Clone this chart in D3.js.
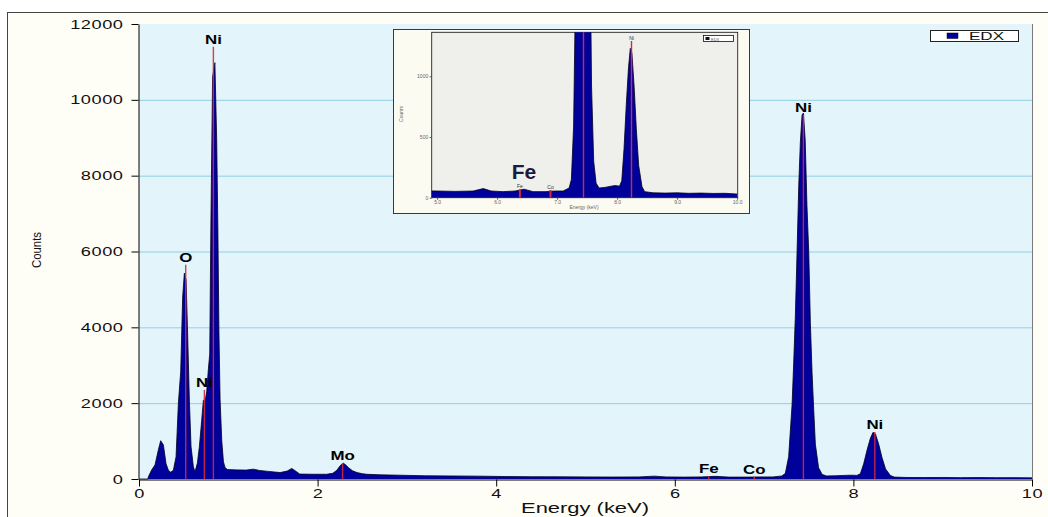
<!DOCTYPE html>
<html><head><meta charset="utf-8">
<script src="https://cdn.jsdelivr.net/npm/d3@7"></script>
<style>body{margin:0;background:#fff;} svg{display:block}</style>
</head><body><svg id="c" width="1048" height="517"></svg>
<script>
// ---- data ----
const energies = [0.0,0.10,0.105,0.142,0.179,0.217,0.243,0.273,0.303,0.329,0.355,0.385,0.415,0.441,0.467,0.489,0.508,0.527,0.545,0.564,0.583,0.609,0.627,0.654,0.676,0.702,0.721,0.740,0.758,0.777,0.792,0.805,0.824,0.850,0.870,0.883,0.895,0.908,0.927,0.946,0.964,0.99,1.10,1.20,1.28,1.35,1.45,1.58,1.66,1.71,1.76,1.80,1.95,2.10,2.17,2.215,2.25,2.27,2.29,2.32,2.345,2.39,2.44,2.50,2.55,2.70,2.92,3.2,3.5,3.8,4.1,4.4,4.7,5.0,5.3,5.6,5.77,5.9,6.1,6.3,6.45,6.6,6.8,6.95,7.1,7.2,7.238,7.275,7.313,7.331,7.35,7.369,7.388,7.406,7.425,7.44,7.46,7.48,7.50,7.518,7.537,7.556,7.574,7.61,7.65,7.70,7.80,7.90,7.97,8.04,8.078,8.115,8.153,8.19,8.22,8.247,8.283,8.32,8.36,8.415,8.46,8.6,8.8,9.0,9.2,9.4,9.6,9.8,10.0];
const counts = [0,0,60,240,370,770,1010,900,400,230,180,230,590,2000,2830,4800,5430,5250,3800,2080,850,320,190,420,850,1550,2080,2050,2300,2900,3300,6700,10600,10980,8940,6650,3900,2100,1000,450,300,250,240,235,260,225,200,170,210,280,200,130,125,125,150,230,340,390,415,360,300,220,170,140,125,110,100,85,80,75,65,60,58,55,52,55,75,55,50,55,70,50,50,55,55,80,150,590,1950,3040,4300,5980,7740,8880,9600,9650,8950,7210,5980,4130,2810,1800,920,300,120,80,85,95,100,95,140,400,765,1073,1230,1190,920,570,264,90,50,40,38,40,36,38,35,36,30];

const yTicks = [0,2000,4000,6000,8000,10000,12000];
const xTicks = [0,2,4,6,8,10];
const gridValues = [2000,4000,6000,8000,10000];

const lineElements = ["O","Ni","Ni","Mo","Fe","Co","Ni","Ni"];
const lineEnergies = [0.523,0.732,0.833,2.28,6.38,6.89,7.44,8.24];
const lineTops = [5650,2350,11400,420,70,60,9600,1240];

const insetXTicks = [5,6,7,8,9,10];
const insetYTicks = [0,500,1000];
const insetLineElements = ["Fe","Co","","Ni"];
const insetLineEnergies = [6.38,6.89,7.44,8.24];
const insetLineTops = [70,63,1500,1290];

const seriesName = "EDX";

// ---- drawing ----
const svg = d3.select("#c");
const FONT = "'Liberation Sans', Arial, sans-serif";

// outer frame
svg.append("rect").attr("x",7.5).attr("y",12.5).attr("width",1100).attr("height",600)
  .attr("fill","#fffef6").attr("stroke","#444").attr("stroke-width",1);

const x = d3.scaleLinear().domain([0,10]).range([139,1032]);
const y = d3.scaleLinear().domain([0,12000]).range([479,24]);

// plot background
svg.append("rect").attr("x",x(0)).attr("y",y(12000)).attr("width",x(10)-x(0)).attr("height",y(0)-y(12000))
  .attr("fill","#e4f4fb");

// gridlines
svg.append("g").selectAll("line").data(gridValues).join("line")
  .attr("x1",x(0)).attr("x2",x(10)).attr("y1",d=>y(d)+0.5).attr("y2",d=>y(d)+0.5)
  .attr("stroke","#8fd0e2").attr("stroke-width",1);

// right border
svg.append("line").attr("x1",x(10)+0.5).attr("x2",x(10)+0.5).attr("y1",y(12000)).attr("y2",y(0))
  .attr("stroke","#7a7a7a");

// spectrum
const area = d3.area().x((d,i)=>x(energies[i])).y0(y(0)).y1((d,i)=>y(counts[i])).curve(d3.curveLinear);
const outline = d3.line().x((d,i)=>x(energies[i])).y((d,i)=>y(counts[i])).curve(d3.curveLinear);
svg.append("path").datum(counts).attr("d",area).attr("fill","#00009a");
svg.append("path").datum(counts).attr("d",outline).attr("fill","none").attr("stroke","#000022").attr("stroke-width",0.8);

// element lines
const lg = svg.append("g");
lineElements.forEach((el,i)=>{
  const lx = x(lineEnergies[i]);
  lg.append("line").attr("x1",lx).attr("x2",lx).attr("y1",y(0)).attr("y2",y(lineTops[i]))
    .attr("stroke","#d8283c").attr("stroke-width",1.4).attr("opacity",0.9);
  lg.append("text").attr("transform",`translate(${lx},${y(lineTops[i])-3}) scale(1.3,1)`)
    .attr("text-anchor","middle").attr("font-family",FONT).attr("font-weight","bold")
    .attr("font-size",13).attr("fill","#000").text(el);
});

// axes
const ax = svg.append("g").attr("transform",`translate(${x(0)-0.5},0)`)
  .call(d3.axisLeft(y).tickValues(yTicks).tickSize(7).tickSizeOuter(0).tickPadding(8).tickFormat(d3.format("d")));
ax.selectAll("text").attr("font-family",FONT).attr("font-size",13).attr("fill","#111")
  .attr("transform","scale(1.4,1)").attr("x",-15/1.4).attr("letter-spacing",0.4);
ax.select(".domain").attr("stroke","#000");

const bx = svg.append("g").attr("transform",`translate(0,${y(0)+0.5})`)
  .call(d3.axisBottom(x).tickValues(xTicks).tickSize(7).tickSizeOuter(0).tickPadding(2).tickFormat(d3.format("d")));
bx.selectAll("text").attr("font-family",FONT).attr("font-size",13).attr("fill","#111")
  .attr("transform","scale(1.4,1)").attr("x",0).attr("letter-spacing",0.4);
bx.select(".domain").attr("stroke","#000");

// axis titles
svg.append("text").attr("x",585).attr("y",513).attr("text-anchor","middle")
  .attr("font-family",FONT).attr("font-size",14).attr("fill","#111")
  .attr("textLength",128).attr("lengthAdjust","spacingAndGlyphs").text("Energy (keV)");
svg.append("text").attr("transform","translate(41,250) rotate(-90)").attr("text-anchor","middle")
  .attr("font-family","'Liberation Sans Narrow', 'Arial Narrow', "+FONT).attr("font-size",12).attr("fill","#111")
  .attr("textLength",36).attr("lengthAdjust","spacingAndGlyphs").text("Counts");

// legend
svg.append("rect").attr("x",930.5).attr("y",30.5).attr("width",88).attr("height",11)
  .attr("fill","#fff").attr("stroke","#222");
svg.append("rect").attr("x",947).attr("y",33).attr("width",11).attr("height",5.5).attr("fill","#00009a").attr("stroke","#000033").attr("stroke-width",0.5);
svg.append("text").attr("x",969).attr("y",40).attr("font-family",FONT).attr("font-size",11.5).attr("fill","#111")
  .attr("textLength",35).attr("lengthAdjust","spacingAndGlyphs").text(seriesName);

// ---- inset ----
const ig = svg.append("g");
ig.append("rect").attr("x",393.5).attr("y",29.5).attr("width",356).attr("height",184)
  .attr("fill","#fcfbf1").attr("stroke","#3a3a3a").attr("stroke-width",1);
const ix = d3.scaleLinear().domain([4.91,10.01]).range([431.7,737.7]);
const iy = d3.scaleLinear().domain([0,1362]).range([197.7,32.3]);
ig.append("rect").attr("x",ix(4.91)).attr("y",iy(1362)).attr("width",ix(10.01)-ix(4.91)).attr("height",iy(0)-iy(1362))
  .attr("fill","#efefec").attr("stroke","#222").attr("stroke-width",0.9);
svg.append("clipPath").attr("id","ic").append("rect")
  .attr("x",ix(4.91)).attr("y",iy(1362)).attr("width",ix(10.01)-ix(4.91)).attr("height",iy(0)-iy(1362));
const ic = ig.append("g").attr("clip-path","url(#ic)");
const iarea = d3.area().x((d,i)=>ix(energies[i])).y0(iy(0)).y1((d,i)=>iy(counts[i])).curve(d3.curveLinear);
const iline = d3.line().x((d,i)=>ix(energies[i])).y((d,i)=>iy(counts[i])).curve(d3.curveLinear);
ic.append("path").datum(counts).attr("d",iarea).attr("fill","#00009a");
ic.append("path").datum(counts).attr("d",iline).attr("fill","none").attr("stroke","#000022").attr("stroke-width",0.8);
insetLineElements.forEach((el,i)=>{
  const lx = ix(insetLineEnergies[i]);
  ic.append("line").attr("x1",lx).attr("x2",lx).attr("y1",iy(0)).attr("y2",iy(insetLineTops[i]))
    .attr("stroke","#d8283c").attr("stroke-width",i<2?2:1.4);
  if(el) ig.append("text").attr("x",lx).attr("y",iy(insetLineTops[i])-1).attr("text-anchor","middle")
    .attr("font-family",FONT).attr("font-size",5).attr("fill","#333").text(el);
});
// inset axes
const iax = ig.append("g").attr("transform",`translate(${ix(4.91)},0)`)
  .call(d3.axisLeft(iy).tickValues(insetYTicks).tickSize(2).tickSizeOuter(0).tickPadding(1.5).tickFormat(d3.format("d")));
iax.selectAll("text").attr("font-family",FONT).attr("font-size",5).attr("fill","#666");
iax.select(".domain").remove();
iax.selectAll("line").attr("stroke","#555");
const ibx = ig.append("g").attr("transform",`translate(0,${iy(0)})`)
  .call(d3.axisBottom(ix).tickValues(insetXTicks).tickSize(2).tickSizeOuter(0).tickPadding(1).tickFormat(d3.format(".1f")));
ibx.selectAll("text").attr("font-family",FONT).attr("font-size",5).attr("fill","#666");
ibx.select(".domain").remove();
ibx.selectAll("line").attr("stroke","#555");
ig.append("text").attr("x",584).attr("y",209).attr("text-anchor","middle")
  .attr("font-family",FONT).attr("font-size",5).attr("fill","#666").text("Energy (keV)");
ig.append("text").attr("transform","translate(403,114) rotate(-90)").attr("text-anchor","middle")
  .attr("font-family",FONT).attr("font-size",5).attr("fill","#666").text("Counts");
// inset legend
ig.append("rect").attr("x",703.5).attr("y",35.5).attr("width",30).attr("height",6).attr("fill","#fff").attr("stroke","#111").attr("stroke-width",0.8);
ig.append("rect").attr("x",705.5).attr("y",37).attr("width",4).attr("height",3).attr("fill","#111");
ig.append("text").attr("x",711).attr("y",40.5).attr("font-family",FONT).attr("font-size",4).attr("fill","#555").text(seriesName);
// big Fe annotation
ig.append("text").attr("x",524).attr("y",179).attr("text-anchor","middle")
  .attr("font-family",FONT).attr("font-weight","bold").attr("font-size",21).attr("fill","#1a1a40").text("Fe");
</script></body></html>
